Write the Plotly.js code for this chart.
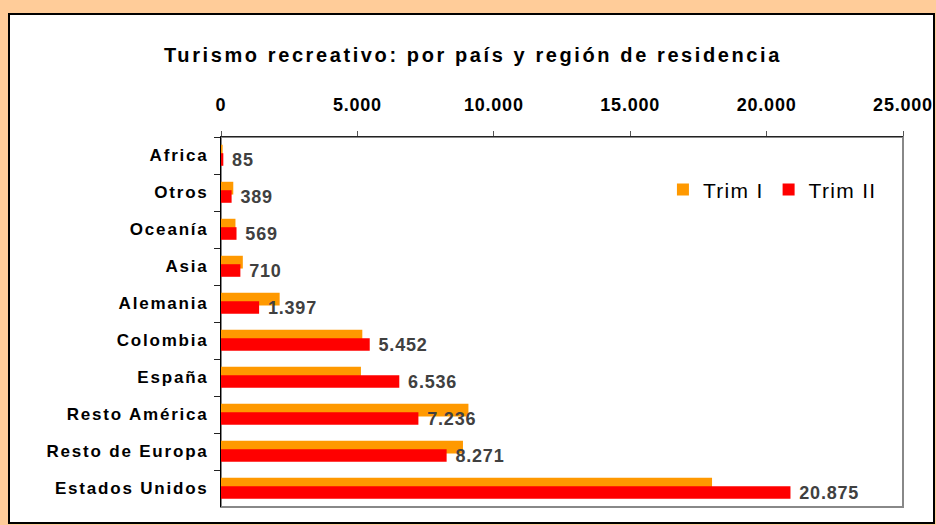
<!DOCTYPE html>
<html>
<head>
<meta charset="utf-8">
<script src="https://cdn.plot.ly/plotly-3.0.1.min.js"></script>
<style>
  html, body { margin: 0; padding: 0; background: #FFCC99; }
  #chart { width: 936px; height: 525px; }
  .gtitle { letter-spacing: 2.6px; }
  .xtick text { letter-spacing: 0.8px; }
  .ytick text { letter-spacing: 1.8px; }
  .bartext { letter-spacing: 0.8px; }
  .legendtext { letter-spacing: 1.3px; }
</style>
</head>
<body>
<div id="chart"></div>
<script>
// Data (top = first category)
const categories = ["Africa", "Otros", "Oceanía", "Asia", "Alemania", "Colombia", "España", "Resto América", "Resto de Europa", "Estados Unidos"];
const trimI  = [60, 450, 530, 800, 2150, 5180, 5130, 9070, 8870, 18000];
const trimII = [85, 389, 569, 710, 1397, 5452, 6536, 7236, 8271, 20875];
const seriesNames = ["Trim I", "Trim II"];
const xTickVals = [0, 5000, 10000, 15000, 20000, 25000];
const chartTitle = "Turismo recreativo: por país y región de residencia";

const FONT = "Liberation Sans, Arial, sans-serif";

const traces = [
  {
    type: "bar", orientation: "h", name: seriesNames[0],
    y: categories, x: trimI,
    marker: { color: "#FF9900" },
    offset: -0.29, width: 0.345,
    hoverinfo: "none"
  },
  {
    type: "bar", orientation: "h", name: seriesNames[1],
    y: categories, x: trimII,
    marker: { color: "#FF0000" },
    offset: -0.062, width: 0.34,
    texttemplate: "\u00a0%{x:,}",
    textposition: "outside",
    constraintext: "none",
    cliponaxis: false,
    textfont: { family: FONT, size: 18, color: "#404040", weight: "bold" },
    hoverinfo: "none"
  }
];

const layout = {
  width: 936, height: 525,
  paper_bgcolor: "#FFCC99",
  plot_bgcolor: "rgba(0,0,0,0)",
  separators: ",.",
  barmode: "overlay",
  margin: { l: 221, r: 33, t: 137, b: 18, pad: 0 },
  font: { family: FONT, color: "#000" },
  title: {
    text: chartTitle,
    font: { family: FONT, size: 20, weight: "bold", color: "#000" },
    x: (473 / 936), xref: "container", xanchor: "center",
    y: 1 - 55 / 525, yref: "container", yanchor: "middle"
  },
  showlegend: true,
  legend: {
    orientation: "h",
    x: 0.648, xanchor: "left",
    y: 0.857, yanchor: "middle",
    bgcolor: "rgba(0,0,0,0)",
    font: { family: FONT, size: 21, color: "#000" },
    traceorder: "normal",
    itemclick: false
  },
  xaxis: {
    side: "top",
    range: [0, 25000],
    tickvals: xTickVals,
    tickformat: ",d",
    ticks: "outside", ticklen: 5, tickcolor: "#555",
    showgrid: false, zeroline: false,
    showline: true, linecolor: "#222", linewidth: 1,
    tickfont: { family: FONT, size: 18, weight: "bold", color: "#000" },
    ticklabelstandoff: 13,
    fixedrange: true
  },
  yaxis: {
    type: "category",
    autorange: "reversed",
    categoryorder: "array", categoryarray: categories,
    ticks: "outside", ticklen: 6, tickcolor: "#222",
    tickson: "boundaries",
    showgrid: false, zeroline: false,
    showline: true, linecolor: "#000", linewidth: 1,
    tickfont: { family: FONT, size: 17, weight: "bold", color: "#000" },
    ticklabelstandoff: 8,
    fixedrange: true
  },
  shapes: [
    { type: "rect", xref: "paper", yref: "paper", layer: "below",
      x0: (9 - 221) / 682, x1: (934 - 221) / 682,
      y0: (507 - 523) / 370, y1: (507 - 14) / 370,
      fillcolor: "#FFFFFF", line: { color: "#000", width: 2 } },
    { type: "rect", xref: "paper", yref: "paper", layer: "below",
      x0: 0, x1: 1, y0: 0, y1: 1,
      fillcolor: "rgba(0,0,0,0)", line: { color: "#888", width: 2 } }
  ]
};

Plotly.newPlot("chart", traces, layout, { staticPlot: true, displayModeBar: false });
</script>
</body>
</html>
